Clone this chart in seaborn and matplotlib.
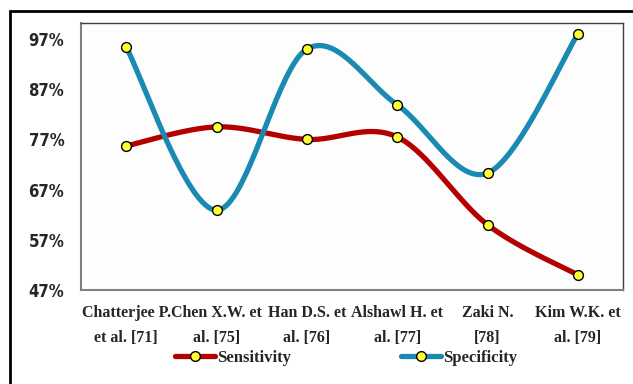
import numpy as np
import pandas as pd
import matplotlib
matplotlib.use("Agg")
import matplotlib.pyplot as plt
from matplotlib.patches import Rectangle
from matplotlib.lines import Line2D
import seaborn as sns

# ---- data ----
categories = ["Chatterjee P.\net al. [71]", "Chen X.W. et\nal. [75]", "Han D.S. et\nal. [76]",
              "Alshawl H. et\nal. [77]", "Zaki N.\n[78]", "Kim W.K. et\nal. [79]"]
sensitivity = [75.7, 79.5, 77.0, 77.5, 60.0, 50.0]
specificity = [95.4, 62.9, 95.0, 83.9, 70.3, 98.0]
yticks = [47, 57, 67, 77, 87, 97]
ytick_labels = ["47%", "57%", "67%", "77%", "87%", "97%"]

sens_color = "#B40000"
spec_color = "#1A8AB2"


def smooth(xs, ys, n=40):
    """Excel-like smoothed curve (Catmull-Rom as cubic Bezier)."""
    P = np.column_stack([xs, ys]).astype(float)
    P = np.vstack([P[0], P, P[-1]])
    out = []
    t = np.linspace(0, 1, n)[:, None]
    for i in range(1, len(P) - 2):
        p0, p1, p2, p3 = P[i - 1], P[i], P[i + 1], P[i + 2]
        c1 = p1 + (p2 - p0) / 6.0
        c2 = p2 - (p3 - p1) / 6.0
        seg = ((1 - t) ** 3) * p1 + 3 * ((1 - t) ** 2) * t * c1 + 3 * (1 - t) * t ** 2 * c2 + t ** 3 * p2
        out.append(seg if i == 1 else seg[1:])
    out = np.vstack(out)
    return out[:, 0], out[:, 1]


sns.set_style("white")
fig = plt.figure(figsize=(6.33, 3.84), dpi=100)
ax = fig.add_axes([81 / 633, 1 - 290 / 384, (623 - 81) / 633, (290 - 23) / 384])
ax.set_facecolor("#FDFDFD")

xpos = np.arange(len(categories))
for vals, col in [(sensitivity, sens_color), (specificity, spec_color)]:
    sx, sy = smooth(xpos, vals)
    sns.lineplot(x=sx, y=sy, sort=False, color=col, linewidth=3.8, ax=ax,
                 solid_capstyle="round")
for vals in [sensitivity, specificity]:
    sns.scatterplot(x=xpos, y=vals, s=50, color="#FFFF33", edgecolor="black",
                    linewidth=1.0, ax=ax, zorder=5)

ax.set_xlim(-0.5, len(categories) - 0.5)
ax.set_ylim(47, 100.2)
ax.set_yticks(yticks)
ax.set_yticklabels(ytick_labels, fontfamily="DejaVu Sans", fontstretch="condensed",
                   fontweight="bold", fontsize=12)
ax.set_xticks(xpos)
ax.set_xticklabels(categories, fontfamily="Liberation Serif", fontweight="bold",
                   fontsize=11.5, linespacing=1.75)
ax.set_xticks(np.arange(-0.5, len(categories), 1.0), minor=True)
ax.tick_params(axis="x", which="major", length=0, pad=11)
ax.tick_params(axis="x", which="minor", length=6, width=1.2, color="#808080", direction="out")
ax.tick_params(axis="y", which="major", length=5, width=1.2, color="#808080", direction="out", pad=7)

for side in ["left", "bottom"]:
    ax.spines[side].set_color("#808080")
    ax.spines[side].set_linewidth(1.5)
for side in ["top", "right"]:
    ax.spines[side].set_visible(True)
    ax.spines[side].set_color("#404040")
    ax.spines[side].set_linewidth(1.0)

handles = [
    Line2D([0], [0], color=sens_color, lw=3.8, marker="o", markersize=7,
           markerfacecolor="#FFFF33", markeredgecolor="black"),
    Line2D([0], [0], color=spec_color, lw=3.8, marker="o", markersize=7,
           markerfacecolor="#FFFF33", markeredgecolor="black"),
]
fig.legend(handles, ["Sensitivity", "Specificity"], loc="center",
           bbox_to_anchor=(346 / 633, 1 - 358 / 384), ncol=2, frameon=False,
           handlelength=2.4, handletextpad=0.1, columnspacing=6.6,
           prop={"family": "Liberation Serif", "weight": "bold", "size": 12})

# outer frame
fig.patches.append(Rectangle((10 / 633, -0.05), 1.0, 1 - 11 / 384 + 0.05,
                             transform=fig.transFigure, fill=False,
                             edgecolor="black", linewidth=2.0))

fig.savefig("out.png", dpi=100)
